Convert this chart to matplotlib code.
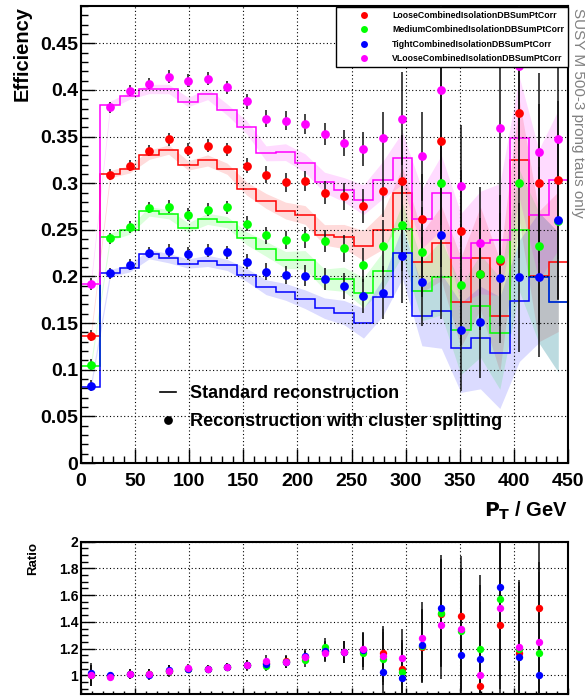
import numpy as np
import matplotlib
matplotlib.use("Agg")
import matplotlib.pyplot as plt
from matplotlib.ticker import MultipleLocator, FuncFormatter
from matplotlib.lines import Line2D

plt.rcParams['font.family'] = ['Liberation Sans', 'DejaVu Sans']

# ---------------- data ----------------
pt_edges = [0, 18, 36, 54, 72, 90, 108, 126, 144, 162, 180, 198, 216, 234,
            252, 270, 288, 306, 324, 342, 360, 378, 396, 414, 432, 450]

series_names = ["LooseCombinedIsolationDBSumPtCorr",
                "MediumCombinedIsolationDBSumPtCorr",
                "TightCombinedIsolationDBSumPtCorr",
                "VLooseCombinedIsolationDBSumPtCorr"]
series_colors = ["#ff0000", "#00ff00", "#0000ff", "#ff00ff"]

# standard reconstruction (step histograms)
std_loose = [0.1363, 0.3097, 0.315, 0.3305, 0.336, 0.319, 0.3244, 0.3155, 0.2943, 0.281,
             0.2707, 0.266, 0.2446, 0.2428, 0.2332, 0.2493, 0.289, 0.2153, 0.2357, 0.1724,
             0.2196, 0.158, 0.3244, 0.2, 0.216]
std_medium = [0.1044, 0.2425, 0.2493, 0.2697, 0.2668, 0.2525, 0.2618, 0.2582, 0.241, 0.2296,
              0.2178, 0.2178, 0.197, 0.197, 0.1828, 0.2064, 0.2507, 0.1845, 0.1989, 0.1427,
              0.1685, 0.1391, 0.2493, 0.199, 0.1724]
std_tight = [0.082, 0.2035, 0.2089, 0.2239, 0.2196, 0.2139, 0.2167, 0.2124, 0.2017, 0.1885,
             0.1835, 0.1756, 0.166, 0.1613, 0.1499, 0.1778, 0.2257, 0.1577, 0.163, 0.1237,
             0.1345, 0.1184, 0.1738, 0.1989, 0.1724]
std_vloose = [0.1917, 0.384, 0.394, 0.401, 0.401, 0.387, 0.3956, 0.379, 0.360, 0.332,
              0.3333, 0.3215, 0.3008, 0.293, 0.2822, 0.3036, 0.3269, 0.262, 0.290, 0.2196,
              0.2364, 0.2396, 0.349, 0.266, 0.3036]

# uncertainty band half-width of the standard reconstruction
band_err = [0.004, 0.004, 0.004, 0.005, 0.005, 0.005, 0.006, 0.006, 0.007, 0.008,
            0.009, 0.010, 0.011, 0.013, 0.016, 0.020, 0.028, 0.032, 0.040, 0.048,
            0.055, 0.060, 0.065, 0.070, 0.075]

# reconstruction with cluster splitting (points)
clu_loose = [0.1366, 0.309, 0.3187, 0.335, 0.347, 0.336, 0.340, 0.3366, 0.3187, 0.309,
             0.301, 0.3026, 0.290, 0.2858, 0.2758, 0.2918, 0.3019, 0.262, 0.3451, 0.249,
             0.2027, 0.217, 0.3752, 0.2997, 0.3036]
clu_medium = [0.105, 0.241, 0.253, 0.2736, 0.275, 0.266, 0.2715, 0.274, 0.2564, 0.244,
              0.239, 0.242, 0.238, 0.230, 0.2124, 0.2328, 0.2554, 0.226, 0.2997, 0.191,
              0.2024, 0.219, 0.2997, 0.2328, 0.26]
clu_tight = [0.083, 0.2035, 0.2128, 0.2257, 0.2275, 0.2242, 0.2278, 0.226, 0.216, 0.205,
             0.2017, 0.201, 0.197, 0.190, 0.179, 0.1828, 0.2217, 0.1946, 0.2443, 0.1427,
             0.151, 0.1985, 0.1989, 0.1989, 0.2607]
clu_vloose = [0.192, 0.3816, 0.399, 0.4067, 0.414, 0.410, 0.412, 0.403, 0.388, 0.369,
              0.367, 0.3634, 0.3527, 0.343, 0.3366, 0.348, 0.369, 0.3287, 0.3995, 0.297,
              0.2364, 0.3594, 0.4252, 0.333, 0.3473]
clu_err = [0.006, 0.006, 0.006, 0.006, 0.007, 0.007, 0.007, 0.007, 0.008, 0.009,
           0.010, 0.011, 0.012, 0.014, 0.018, 0.028, 0.050, 0.048, 0.090, 0.065,
           0.060, 0.070, 0.080, 0.085, 0.085]

# ratio panel (first 24 bins)
ratio_loose = [1.0, 0.995, 1.01, 1.01, 1.035, 1.05, 1.045, 1.065, 1.078, 1.09, 1.11, 1.135,
               1.18, 1.175, 1.19, 1.17, 1.045, 1.21, 1.46, 1.444, 0.923, 1.375, 1.165, 1.5]
ratio_medium = [1.0, 0.995, 1.01, 1.01, 1.035, 1.05, 1.045, 1.065, 1.075, 1.07, 1.1, 1.115,
                1.21, 1.175, 1.17, 1.125, 1.025, 1.22, 1.47, 1.33, 1.2, 1.57, 1.2, 1.17]
ratio_tight = [1.015, 1.0, 1.01, 1.005, 1.04, 1.045, 1.05, 1.065, 1.078, 1.085, 1.1, 1.145,
               1.185, 1.175, 1.19, 1.027, 0.98, 1.227, 1.5, 1.152, 1.125, 1.663, 1.14, 1.0]
ratio_vloose = [1.0, 0.99, 1.01, 1.01, 1.03, 1.055, 1.045, 1.065, 1.078, 1.11, 1.1, 1.135,
                1.17, 1.175, 1.197, 1.147, 1.13, 1.28, 1.375, 1.35, 1.0, 1.5, 1.215, 1.25]
ratio_err = [0.08, 0.02, 0.04, 0.04, 0.04, 0.03, 0.03, 0.03, 0.04, 0.04, 0.045, 0.05,
             0.07, 0.085, 0.13, 0.2, 0.22, 0.27, 0.4, 0.45, 0.55, 0.6, 0.5, 0.6]

x_ticks = [0, 50, 100, 150, 200, 250, 300, 350, 400, 450]

std_all = [std_loose, std_medium, std_tight, std_vloose]
clu_all = [clu_loose, clu_medium, clu_tight, clu_vloose]
ratio_all = [ratio_loose, ratio_medium, ratio_tight, ratio_vloose]

edges = np.array(pt_edges, dtype=float)
centers = 0.5 * (edges[:-1] + edges[1:])
nr = len(ratio_err)

# ---------------- figure ----------------
W, H = 585, 696
fig = plt.figure(figsize=(W / 100, H / 100), dpi=100)
ax = fig.add_axes([81 / W, 1 - 463 / H, 487 / W, 457 / H])
axr = fig.add_axes([81 / W, 1 - 694 / H, 487 / W, 152.3 / H])

grid_kw = dict(color='black', linestyle=(0, (1, 2.2)), linewidth=0.8)
fmt = FuncFormatter(lambda v, p: "%g" % round(v, 3))

# bands
for s, c in zip(std_all, series_colors):
    s = np.array(s)
    b = np.array(band_err)
    ax.fill_between(centers, s - b, s + b, color=c, alpha=0.14, lw=0, zorder=1)

# step histograms
for s, c in zip(std_all, series_colors):
    ax.stairs(s, edges, color=c, lw=1.1, zorder=2, baseline=None)

# points
for s, c in zip(clu_all, series_colors):
    ax.errorbar(centers, s, yerr=clu_err, fmt='none', ecolor='#111111', elinewidth=1.1,
                capsize=0, zorder=3)
for s, c in zip(clu_all, series_colors):
    ax.plot(centers, s, 'o', color=c, ms=6.3, mew=0, zorder=4)

ax.set_xlim(0, 450)
ax.set_ylim(0, 0.49)
ax.set_xticks(x_ticks)
ax.xaxis.set_minor_locator(MultipleLocator(10))
ax.yaxis.set_major_locator(MultipleLocator(0.05))
ax.yaxis.set_minor_locator(MultipleLocator(0.01))
ax.yaxis.set_major_formatter(fmt)
ax.grid(True, which='major', **grid_kw)
ax.set_axisbelow(False)
ax.tick_params(which='both', direction='in', top=False, right=False, width=1.0)
ax.tick_params(which='major', length=10)
ax.tick_params(which='minor', length=5)
ax.tick_params(axis='both', labelsize=14)
for lab in ax.get_xticklabels() + ax.get_yticklabels():
    lab.set_fontweight('bold')
ax.tick_params(axis='x', pad=7)
ax.tick_params(axis='y', pad=2)
for sp in ax.spines.values():
    sp.set_linewidth(1.5)

ax.set_ylabel("Efficiency", fontsize=14.5, fontweight='bold', loc='top', labelpad=6)
ax.set_xlabel(r"$\mathbf{P_{T}}$ / GeV", fontsize=14.5, fontweight='bold', loc='right', labelpad=7)

# legends
h_series = [Line2D([], [], marker='o', ls='none', color=c, ms=5, mew=0) for c in series_colors]
leg1 = ax.legend(h_series, series_names, loc='upper right',
                 bbox_to_anchor=(568 / W, 1 - 7 / H), bbox_transform=fig.transFigure,
                 borderaxespad=0, frameon=True, fancybox=False, edgecolor='black',
                 framealpha=1, prop=dict(size=6.3, weight='bold'), handlelength=5.6,
                 handletextpad=0.4, borderpad=0.45, labelspacing=0.62)
leg1.get_frame().set_linewidth(1.0)
ax.add_artist(leg1)

h_style = [Line2D([], [], color='black', lw=1.2),
           Line2D([], [], marker='o', ls='none', color='black', ms=6.3, mew=0)]
leg2 = ax.legend(h_style, ["Standard reconstruction", "Reconstruction with cluster splitting"],
                 loc='upper left', bbox_to_anchor=(160 / W, 1 - 385 / H),
                 bbox_transform=fig.transFigure, borderaxespad=0, frameon=False,
                 prop=dict(size=13, weight='bold'), handlelength=0.9, handletextpad=0.75,
                 labelspacing=0.62, borderpad=0)

fig.text(578 / W, 1 - 8 / H, "SUSY M 500-3 prong taus only", rotation=270,
         ha='center', va='top', color='#808080', fontsize=11)

# ratio panel
for r, c in zip(ratio_all, series_colors):
    axr.errorbar(centers[:nr], r, yerr=ratio_err, fmt='none', ecolor='#111111',
                 elinewidth=1.1, capsize=0, zorder=3)
for r, c in zip(ratio_all, series_colors):
    axr.plot(centers[:nr], r, 'o', color=c, ms=5.3, mew=0, zorder=4)
axr.set_xlim(0, 450)
axr.set_ylim(0.86, 2.0)
axr.set_xticks(x_ticks)
axr.xaxis.set_minor_locator(MultipleLocator(10))
axr.yaxis.set_major_locator(MultipleLocator(0.2))
axr.yaxis.set_minor_locator(MultipleLocator(0.05))
axr.yaxis.set_major_formatter(fmt)
axr.grid(True, which='major', **grid_kw)
axr.tick_params(which='both', direction='in', top=False, right=False, width=1.0)
axr.tick_params(axis='y', which='major', length=10)
axr.tick_params(axis='y', which='minor', length=5)
axr.tick_params(axis='x', which='major', length=4)
axr.tick_params(axis='x', which='minor', length=2.5)
axr.tick_params(axis='x', labelbottom=False)
axr.tick_params(axis='y', labelsize=10, pad=2)
for lab in axr.get_yticklabels():
    lab.set_fontweight('bold')
for sp in axr.spines.values():
    sp.set_linewidth(1.5)
axr.set_ylabel("Ratio", fontsize=9.5, fontweight='bold', loc='top', labelpad=14)

fig.savefig("out.png", dpi=100)
